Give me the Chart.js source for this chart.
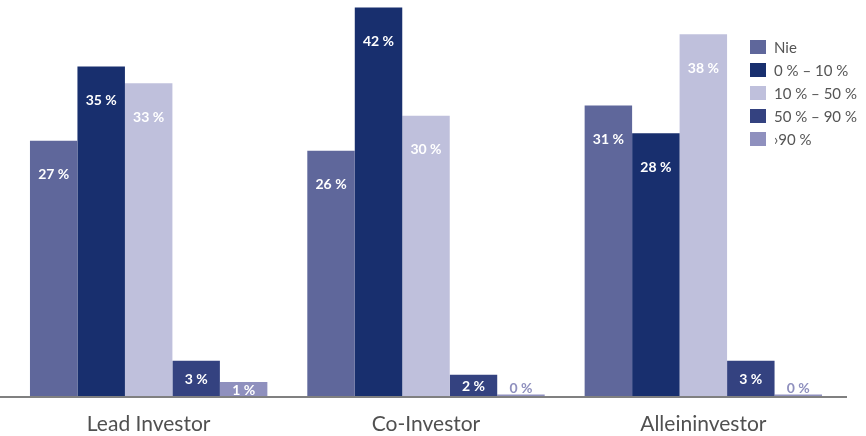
<!DOCTYPE html>
<html>
<head>
<meta charset="utf-8">
<script src="https://cdn.jsdelivr.net/npm/chart.js@4/dist/chart.umd.min.js"></script>
<style>
  html, body { margin: 0; padding: 0; background: #fff; }
  .wrap { position: relative; width: 866px; height: 436px; }
  #legend {
    position: absolute; left: 750px; top: 35px;
    font-family: Lato, "Open Sans", sans-serif; font-size: 15px; color: #555;
  }
  #legend div { display: flex; align-items: center; height: 23px; }
  #legend span.box { display: inline-block; width: 16px; height: 14px; margin-right: 8px; }
</style>
</head>
<body>
<div class="wrap">
  <canvas id="chart" width="866" height="436"></canvas>
  <div id="legend"></div>
</div>
<script>
// categories (x axis)
const categories = ["Lead Investor", "Co-Investor", "Alleininvestor"];

// series names (legend)
const seriesNames = ["Nie", "0 % – 10 %", "10 % – 50 %", "50 % – 90 %", "›90 %"];

// bar heights, in percent
const nie      = [27.6, 26.5, 31.4];
const upTo10   = [35.6, 42.0, 28.4];
const upTo50   = [33.8, 30.3, 39.1];
const upTo90   = [3.8, 2.3, 3.8];
const over90   = [1.5, 0.15, 0.15];

// printed value labels
const nieText    = ["27 %", "26 %", "31 %"];
const upTo10Text = ["35 %", "42 %", "28 %"];
const upTo50Text = ["33 %", "30 %", "38 %"];
const upTo90Text = ["3 %", "2 %", "3 %"];
const over90Text = ["1 %", "0 %", "0 %"];

const colors = ["#5f679b", "#182f6e", "#bfc0dc", "#344280", "#8f90be"];

const seriesValues = [nie, upTo10, upTo50, upTo90, over90];
const seriesTexts = [nieText, upTo10Text, upTo50Text, upTo90Text, over90Text];

// legend
const legendEl = document.getElementById("legend");
seriesNames.forEach((name, i) => {
  const row = document.createElement("div");
  row.innerHTML = `<span class="box" style="background:${colors[i]}"></span>${name}`;
  legendEl.appendChild(row);
});

// value labels drawn on the bars
const valueLabels = {
  id: "valueLabels",
  afterDatasetsDraw(chart) {
    const ctx = chart.ctx;
    ctx.save();
    ctx.font = "bold 14px Lato, 'Open Sans', sans-serif";
    ctx.textAlign = "center";
    chart.data.datasets.forEach((ds, di) => {
      chart.getDatasetMeta(di).data.forEach((bar, i) => {
        const text = seriesTexts[di][i];
        const h = bar.base - bar.y;
        let y;
        if (h > 60) {
          ctx.fillStyle = "#fff";
          ctx.textBaseline = "middle";
          y = bar.y + 34;
        } else if (h > 8) {
          ctx.fillStyle = "#fff";
          ctx.textBaseline = "middle";
          y = (bar.y + bar.base) / 2 + 1;
        } else {
          ctx.fillStyle = colors[di];
          ctx.textBaseline = "alphabetic";
          y = bar.y - 2;
        }
        ctx.fillText(text, bar.x, y);
      });
    });
    ctx.restore();
  }
};

// axis line spanning the full width
const baseLine = {
  id: "baseLine",
  afterDatasetsDraw(chart) {
    const ctx = chart.ctx;
    const y = chart.scales.y.getPixelForValue(0);
    ctx.save();
    ctx.strokeStyle = "#808080";
    ctx.lineWidth = 2;
    ctx.beginPath();
    ctx.moveTo(0, y + 1);
    ctx.lineTo(847, y + 1);
    ctx.stroke();
    ctx.restore();
  }
};

new Chart(document.getElementById("chart"), {
  type: "bar",
  data: {
    labels: categories,
    datasets: seriesNames.map((name, i) => ({
      label: name,
      data: seriesValues[i],
      backgroundColor: colors[i],
      borderWidth: 0,
      barPercentage: 1,
      categoryPercentage: 0.856,
    })),
  },
  options: {
    responsive: false,
    animation: false,
    layout: { padding: { left: 10, right: 24, top: 0, bottom: 0 } },
    plugins: { legend: { display: false }, tooltip: { enabled: false } },
    scales: {
      x: {
        grid: { display: false, drawTicks: false },
        border: { display: false },
        afterFit(scale) { scale.height = 40; },
        ticks: {
          color: "#505050",
          padding: 16,
          font: { family: "Lato, 'Open Sans', sans-serif", size: 21 },
        },
      },
      y: { display: false, min: 0, max: 42.8 },
    },
  },
  plugins: [valueLabels, baseLine],
});
</script>
</body>
</html>
